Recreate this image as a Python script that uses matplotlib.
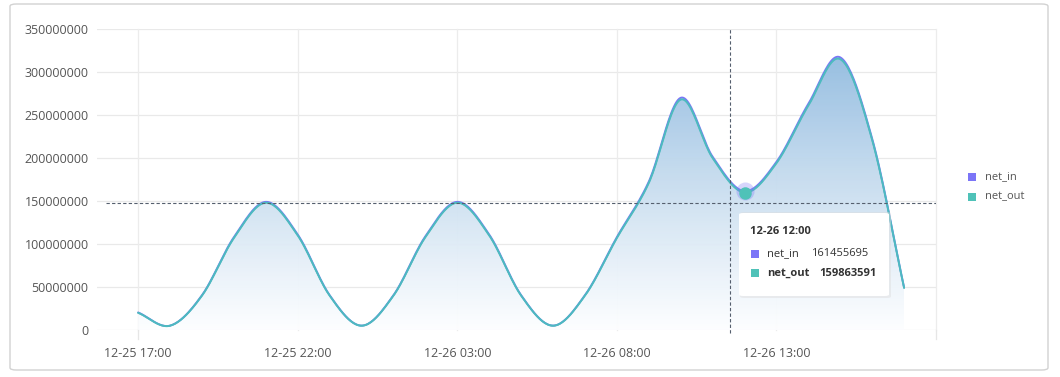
import matplotlib.pyplot as plt
import numpy as np
from matplotlib.colors import LinearSegmentedColormap
from matplotlib.patches import FancyBboxPatch, Rectangle

plt.rcParams['font.family'] = ['Open Sans', 'DejaVu Sans']

# hourly samples, 12-25 17:00 .. 12-26 17:00
hours = list(range(25))
net_in = [20.4e6, 5.1e6, 40.5e6, 108e6, 149e6, 111e6, 40.5e6, 5.1e6, 40.5e6, 109e6, 149e6,
          111e6, 40.5e6, 5.1e6, 40.5e6, 108e6, 172.5e6, 270e6, 201.5e6, 161455695,
          195.5e6, 263e6, 317e6, 222.5e6, 49.5e6]
net_out = [20e6, 5e6, 40e6, 107e6, 148e6, 110e6, 40e6, 5e6, 40e6, 108e6, 148e6,
           110e6, 40e6, 5e6, 40e6, 107e6, 171e6, 268e6, 200e6, 159863591,
           194e6, 261e6, 315e6, 221e6, 49e6]
tick_hours = [0, 5, 10, 15, 20]
tick_labels = ['12-25 17:00', '12-25 22:00', '12-26 03:00', '12-26 08:00', '12-26 13:00']
y_ticks = [0, 50e6, 100e6, 150e6, 200e6, 250e6, 300e6, 350e6]
series_names = ['net_in', 'net_out']
colors = ['#7b75f7', '#4fc2b8']

W, H = 1060, 377


def smooth(x, y, n=24):
    # catmull-rom curve through the samples, used only for drawing
    x = np.asarray(x, float)
    y = np.asarray(y, float)
    px = np.concatenate([[2 * x[0] - x[1]], x, [2 * x[-1] - x[-2]]])
    py = np.concatenate([[2 * y[0] - y[1]], y, [2 * y[-1] - y[-2]]])
    xs, ys = [], []
    t = np.linspace(0, 1, n, endpoint=False)
    for i in range(1, len(px) - 2):
        for arr, out in ((px, xs), (py, ys)):
            p0, p1, p2, p3 = arr[i - 1], arr[i], arr[i + 1], arr[i + 2]
            out.extend(0.5 * ((2 * p1) + (-p0 + p2) * t + (2 * p0 - 5 * p1 + 4 * p2 - p3) * t ** 2
                              + (-p0 + 3 * p1 - 3 * p2 + p3) * t ** 3))
    xs.append(x[-1])
    ys.append(y[-1])
    return np.array(xs), np.array(ys)


def fx(px):
    return px / W


def fy(py):
    return 1 - py / H


fig = plt.figure(figsize=(W / 100, H / 100), dpi=100)
fig.patch.set_facecolor('white')

# card border
fig.patches.append(FancyBboxPatch((fx(10), fy(370)), fx(1038), (370 - 4) / H,
                                  boxstyle='round,pad=0,rounding_size=0.006',
                                  transform=fig.transFigure, fc='white', ec='#d2d2d2', lw=1,
                                  zorder=-10))

ax = fig.add_axes([fx(97), fy(330), fx(936 - 97), (330 - 29) / H])
ax.set_facecolor('none')
xmin, xmax = -1.29, 25.0

for s in ax.spines.values():
    s.set_visible(False)
ax.set_yticks(y_ticks)
ax.set_yticklabels([str(int(v)) for v in y_ticks])
ax.set_xticks(tick_hours)
ax.set_xticklabels(tick_labels)
ax.tick_params(length=0, colors='#555555', labelsize=9)
ax.tick_params(axis='y', pad=6)
ax.tick_params(axis='x', pad=12)
for v in y_ticks:
    ax.axhline(v, color='#e9e9e9', lw=0.9, zorder=0)
for h in tick_hours + [25]:
    ax.plot([h, h], [0, 350e6], color='#ececec', lw=0.9, zorder=0, clip_on=False)
ax.plot([0, 0], [0, -10e6], color='#e6e6e6', lw=0.9, clip_on=False)
ax.plot([25, 25], [0, -10e6], color='#e6e6e6', lw=0.9, clip_on=False)

# gradient area
sx, sy = smooth(hours, net_out)
poly = ax.fill_between(sx, 0, sy, color='none', lw=0)
cmap = LinearSegmentedColormap.from_list('g', [(0.99, 0.995, 1.0), (0.58, 0.74, 0.88)])
grad = np.linspace(0, 1, 256).reshape(-1, 1) ** 1.1
img = ax.imshow(grad, cmap=cmap, extent=[0, 24, 0, max(net_out)], origin='lower',
                aspect='auto', zorder=1, alpha=0.95)
img.set_clip_path(poly.get_paths()[0], transform=ax.transData)
ax.set_xlim(xmin, xmax)
ax.set_ylim(0, 350e6)

for vals, c in zip([net_in, net_out], colors):
    lx, ly = smooth(hours, vals)
    ax.plot(lx, ly, color=c, lw=1.4, zorder=3, solid_capstyle='round')
ax.plot(*smooth(hours, net_out), color='#4db3c8', lw=1.1, zorder=4, alpha=0.6)

# crosshair
ax.plot([-1.0, 25], [147.5e6, 147.5e6], color='#555f6e', lw=0.8, ls=(0, (3, 2)), zorder=5)
ax.plot([18.53, 18.53], [-4e6, 350e6], color='#555f6e', lw=0.8, ls=(0, (3, 2)), zorder=5,
        clip_on=False)

# hovered point
ax.plot(19, net_in[19], 'o', ms=13, color=colors[0], alpha=0.3, zorder=6, mec='none')
ax.plot(19, net_out[19], 'o', ms=9, color=colors[1], zorder=7, mec='none')

# tooltip
fig.patches.append(FancyBboxPatch((fx(740), fy(298)), fx(151), 86 / H,
                                  boxstyle='round,pad=0,rounding_size=0.004',
                                  transform=fig.transFigure, fc='#dcdcdc', ec='none',
                                  alpha=0.45, zorder=8))
fig.patches.append(FancyBboxPatch((fx(739), fy(296)), fx(150), 83 / H,
                                  boxstyle='round,pad=0,rounding_size=0.004',
                                  transform=fig.transFigure, fc='white', ec='none', zorder=9))
fig.text(fx(750), fy(232), '12-26 12:00', fontsize=8, color='#333333', weight='bold',
         va='center', zorder=10)
tip_rows = [(series_names[0], net_in[19], 'normal'), (series_names[1], net_out[19], 'bold')]
for i, (name, val, wt) in enumerate(tip_rows):
    yy = 254 + i * 19
    fig.patches.append(Rectangle((fx(751), fy(yy + 4)), fx(8), 8 / H, transform=fig.transFigure,
                                 fc=colors[i], ec='none', zorder=10))
    fig.text(fx(767), fy(yy), name, fontsize=8, color='#333333', weight=wt, va='center', zorder=10)
    fig.text(fx(811 if i == 0 else 819), fy(yy), str(int(val)), fontsize=8, color='#333333',
             weight=wt, va='center', zorder=10)

# legend
for i, name in enumerate(series_names):
    yy = 177 + i * 20
    fig.patches.append(Rectangle((fx(968), fy(yy + 4)), fx(8), 8 / H, transform=fig.transFigure,
                                 fc=colors[i], ec='none'))
    fig.text(fx(985), fy(yy), name, fontsize=8, color='#555555', va='center')

fig.savefig('out.png', dpi=100)
